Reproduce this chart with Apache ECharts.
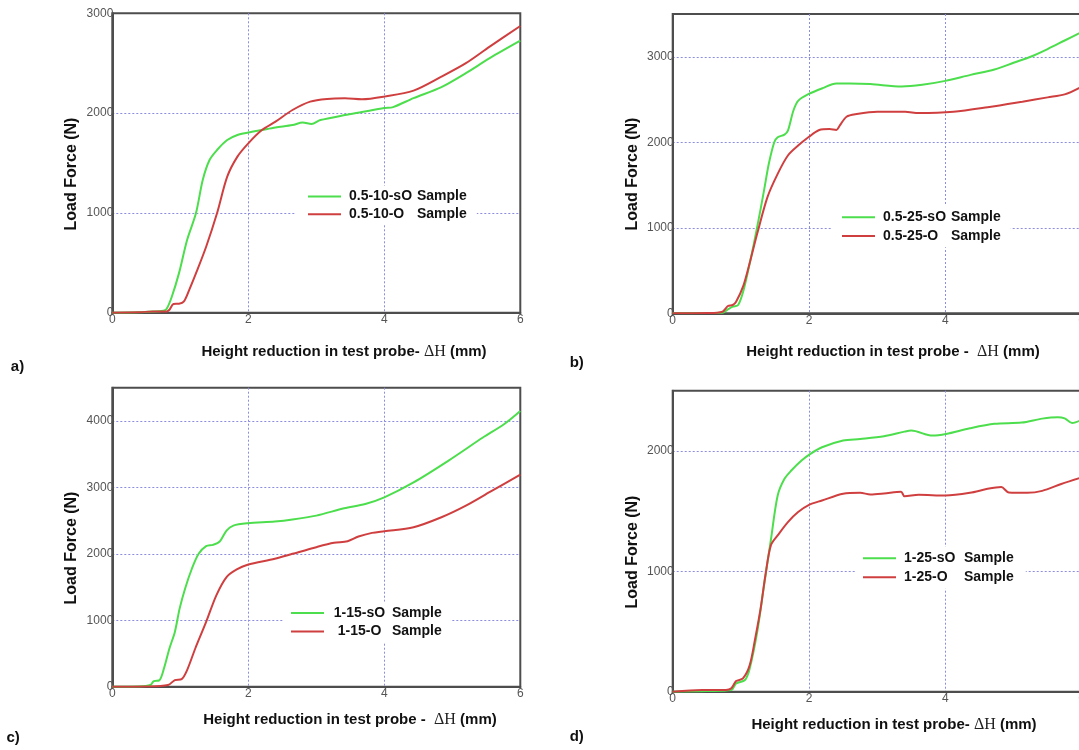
<!DOCTYPE html>
<html>
<head>
    <meta charset="utf-8">
    <title>Load force vs height reduction</title>
    <script src="https://cdn.jsdelivr.net/npm/echarts@6/dist/echarts.min.js"></script>
    <style>
        body { margin: 0; background: #fff; }
        #chart { width: 1079px; height: 750px; }
    </style>
</head>
<body>
    <div id="chart"></div>
    <script type="text/javascript">

        // [height reduction (mm), load force (N)]
        var a_sO = [[0,0],[0.4,5],[0.75,20],[0.8,40],[0.875,160],[0.98,394],[1.1,729],[1.23,996],[1.33,1330],[1.43,1530],[1.54,1630],[1.69,1730],[1.84,1780],[2.0,1805],[2.2,1830],[2.4,1855],[2.65,1880],[2.8,1905],[2.93,1890],[3.06,1930],[3.42,1980],[3.67,2010],[4.0,2050],[4.13,2060],[4.43,2150],[4.84,2260],[5.2,2400],[5.55,2550],[6.0,2725]];
        var a_O = [[0,0],[0.4,5],[0.6,12],[0.8,12],[0.84,30],[0.9,87],[0.98,90],[1.05,110],[1.13,227],[1.23,394],[1.38,661],[1.54,996],[1.69,1363],[1.84,1564],[2.0,1697],[2.2,1830],[2.4,1914],[2.65,2031],[2.91,2115],[3.16,2142],[3.42,2148],[3.67,2138],[4.0,2165],[4.43,2225],[4.84,2365],[5.2,2500],[5.55,2666],[6.0,2873]];

        var b_sO = [[0,0],[0.5,3],[0.73,5],[0.8,40],[0.88,78],[0.96,97],[1.04,272],[1.14,621],[1.24,1010],[1.34,1437],[1.41,1748],[1.49,2000],[1.54,2058],[1.64,2089],[1.69,2136],[1.77,2369],[1.84,2485],[1.99,2563],[2.2,2633],[2.4,2687],[2.6,2687],[2.9,2680],[3.36,2652],[3.66,2672],[4.0,2718],[4.37,2788],[4.72,2850],[5.0,2930],[5.25,3000],[5.5,3090],[5.75,3190],[6.0,3290]];
        var b_O = [[0,0],[0.5,3],[0.73,19],[0.81,85],[0.88,97],[0.93,136],[1.04,330],[1.14,621],[1.24,932],[1.39,1359],[1.54,1631],[1.69,1845],[1.84,1961],[1.99,2058],[2.15,2144],[2.3,2155],[2.4,2144],[2.45,2194],[2.55,2299],[2.7,2330],[3.0,2357],[3.41,2357],[3.61,2342],[4.12,2357],[4.62,2410],[5.13,2475],[5.5,2525],[5.75,2560],[6.0,2650]];

        var c_sO = [[0,0],[0.4,3],[0.56,25],[0.61,85],[0.69,95],[0.76,275],[0.84,575],[0.92,825],[0.99,1175],[1.07,1475],[1.17,1775],[1.27,2000],[1.38,2115],[1.48,2135],[1.58,2185],[1.68,2350],[1.78,2425],[1.99,2460],[2.39,2485],[2.65,2515],[3.0,2575],[3.41,2685],[3.72,2750],[4.0,2850],[4.43,3075],[4.94,3400],[5.45,3750],[5.76,3950],[6.0,4150]];
        var c_O = [[0,0],[0.5,3],[0.82,25],[0.92,100],[1.02,115],[1.1,250],[1.22,575],[1.38,975],[1.53,1375],[1.68,1650],[1.83,1765],[1.99,1835],[2.39,1925],[2.65,2000],[3.0,2100],[3.26,2165],[3.46,2190],[3.62,2260],[3.82,2315],[4.0,2340],[4.43,2400],[4.84,2550],[5.2,2725],[5.56,2935],[6.0,3190]];

        var d_sO = [[0,0],[0.5,5],[0.86,14],[0.93,69],[1.06,97],[1.13,193],[1.24,497],[1.34,884],[1.44,1260],[1.54,1630],[1.64,1768],[1.74,1837],[1.89,1920],[2.02,1975],[2.19,2030],[2.5,2086],[2.75,2099],[3.1,2122],[3.4,2160],[3.5,2169],[3.81,2127],[4.01,2141],[4.36,2188],[4.72,2225],[5.12,2235],[5.42,2268],[5.65,2280],[5.75,2270],[5.86,2232],[6.0,2258]];
        var d_O = [[0,0],[0.43,14],[0.78,14],[0.86,28],[0.93,88],[1.03,110],[1.13,221],[1.21,442],[1.29,691],[1.36,967],[1.44,1215],[1.54,1298],[1.69,1409],[1.84,1492],[2.0,1552],[2.19,1588],[2.5,1644],[2.75,1652],[2.9,1638],[3.1,1646],[3.35,1660],[3.4,1624],[3.61,1635],[4.0,1630],[4.36,1652],[4.62,1685],[4.82,1700],[4.93,1655],[5.2,1652],[5.42,1668],[5.7,1725],[6.0,1780]];

        var names_sO = ['0.5-10-sO', '0.5-25-sO', '1-15-sO', '1-25-sO'];
        var names_O = ['0.5-10-O', '0.5-25-O', '1-15-O', '1-25-O'];
        var yMax = [3000, 3500, 4500, 2500];
        var panelLetters = ['a)', 'b)', 'c)', 'd)'];

        var GREEN = '#4cde4c';
        var RED = '#d03f3f';
        var FONT = '"Liberation Sans", Arial, sans-serif';

        // pixel boxes of the 4 plot frames (right column is cut by the page edge)
        var grids = [
            {left: 112.3, top: 13.3, width: 408, height: 299.4},
            {left: 672.7, top: 14, width: 409, height: 299.3},
            {left: 112.3, top: 387.7, width: 408, height: 299},
            {left: 672.7, top: 390.7, width: 409, height: 301}
        ];
        // first legend row centre, row pitch, name column width, padding
        var legendPos = [
            {left: 296, row: 196.5, pitch: 17.7, nameW: 68, align: 'left', pad: [2, 10, 2, 12]},
            {left: 832, row: 217.3, pitch: 18.7, nameW: 68, align: 'left', pad: [2, 10, 2, 10]},
            {left: 284, row: 613, pitch: 18.4, nameW: 55, align: 'right', pad: [2, 9, 2, 7]},
            {left: 855, row: 558.3, pitch: 19, nameW: 60, align: 'left', pad: [2, 12, 2, 8]}
        ];
        var xTitles = ['Height reduction in test probe- ', 'Height reduction in test probe -  ',
                       'Height reduction in test probe -  ', 'Height reduction in test probe- '];
        var xTitlePos = [[344, 352], [893, 352], [350, 720], [894, 725]];
        var yTitlePos = [[71.4, 174], [633, 174], [71.4, 548], [633, 552]];
        var letterPos = [[10.8, 367], [569.7, 363], [6.5, 738], [569.7, 737]];
        var seriesData = [[a_sO, a_O], [b_sO, b_O], [c_sO, c_O], [d_sO, d_O]];

        var myChart = echarts.init(document.getElementById('chart'));

        var option = {
            backgroundColor: '#fff',
            animation: false,
            grid: [], xAxis: [], yAxis: [], series: [], legend: [], graphic: []
        };

        grids.forEach(function(g, i) {
            option.grid.push({
                left: g.left, top: g.top, width: g.width, height: g.height,
                outerBoundsMode: 'none', containLabel: false,
                show: true, borderColor: '#4d4d4d', borderWidth: 2, backgroundColor: 'transparent'
            });
            option.xAxis.push({
                type: 'value', gridIndex: i, min: 0, max: 6, interval: 2,
                axisLine: {show: true, onZero: false, lineStyle: {color: '#4d4d4d', width: 2}},
                axisTick: {show: false},
                axisLabel: {color: '#555', fontSize: 12, fontFamily: FONT, margin: 1},
                splitLine: {show: true, showMinLine: false, showMaxLine: false,
                            lineStyle: {color: '#8c8ce0', type: [2, 2], width: 1}}
            });
            option.yAxis.push({
                type: 'value', gridIndex: i, min: 0, max: yMax[i], interval: 1000,
                axisLine: {show: true, onZero: false, lineStyle: {color: '#4d4d4d', width: 2}},
                axisTick: {show: false},
                axisLabel: {
                    color: '#555', fontSize: 12, fontFamily: FONT, margin: -1,
                    formatter: function(v) { return v % 1000 === 0 ? v : ''; }
                },
                splitLine: {show: true, showMinLine: false, showMaxLine: false,
                            lineStyle: {color: '#8c8ce0', type: [2, 2], width: 1}}
            });

            var nm1 = names_sO[i] + ' Sample';
            var nm2 = names_O[i] + ' Sample';
            option.series.push({
                name: nm1, type: 'line', xAxisIndex: i, yAxisIndex: i,
                data: seriesData[i][0], symbol: 'none', smooth: 0.3,
                lineStyle: {color: GREEN, width: 2}, itemStyle: {color: GREEN}, z: 3
            });
            option.series.push({
                name: nm2, type: 'line', xAxisIndex: i, yAxisIndex: i,
                data: seriesData[i][1], symbol: 'none', smooth: 0.3,
                lineStyle: {color: RED, width: 2}, itemStyle: {color: RED}, z: 4
            });

            var lp = legendPos[i];
            var txt = {fontSize: 14, fontWeight: 'bold', fontFamily: FONT, color: '#111', lineHeight: lp.pitch};
            option.legend.push({
                data: [nm1, nm2], orient: 'vertical',
                left: lp.left, top: lp.row - lp.pitch / 2 - lp.pad[0],
                icon: 'rect', itemWidth: 33, itemHeight: 2, itemGap: 0,
                backgroundColor: '#fff', padding: lp.pad,
                selectedMode: false,
                formatter: function(name) {
                    var parts = name.split(' ');
                    return '{g|}{n|' + parts[0] + '}{s|' + parts[1] + '}';
                },
                textStyle: {
                    lineHeight: lp.pitch,
                    rich: {
                        g: {width: 3, lineHeight: lp.pitch},
                        n: Object.assign({width: lp.nameW, align: lp.align}, txt),
                        s: Object.assign({padding: [0, 0, 0, lp.align === 'right' ? 5 : 0]}, txt)
                    }
                }
            });

            option.graphic.push({
                type: 'text', x: xTitlePos[i][0], y: xTitlePos[i][1],
                style: {
                    text: '{b|' + xTitles[i] + '}{d|ΔH}{b| (mm)}',
                    align: 'center', verticalAlign: 'middle',
                    rich: {
                        b: {fontSize: 15, fontWeight: 'bold', fontFamily: FONT, fill: '#111'},
                        d: {fontSize: 16, fontFamily: '"Liberation Serif", "Times New Roman", serif', fill: '#222'}
                    }
                }
            });
            option.graphic.push({
                type: 'text', x: yTitlePos[i][0], y: yTitlePos[i][1], rotation: Math.PI / 2,
                style: {
                    text: 'Load Force (N)', align: 'center', verticalAlign: 'middle',
                    font: 'bold 16px ' + FONT, fill: '#111'
                }
            });
            option.graphic.push({
                type: 'text', x: letterPos[i][0], y: letterPos[i][1],
                style: {
                    text: panelLetters[i], align: 'left', verticalAlign: 'middle',
                    font: 'bold 15px ' + FONT, fill: '#111'
                }
            });
        });

        myChart.setOption(option);
    </script>
</body>
</html>
